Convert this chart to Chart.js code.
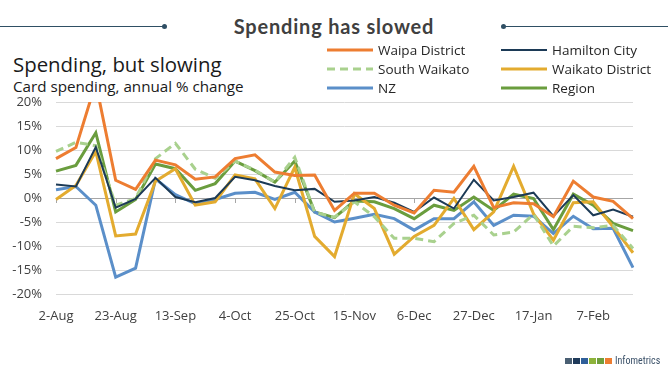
<!DOCTYPE html>
<html>
<head>
<meta charset="utf-8">
<script src="https://cdn.jsdelivr.net/npm/chart.js@4"></script>
<style>
  body { margin: 0; background: #fff; }
  #page { position: relative; width: 668px; height: 371px; overflow: hidden; background: #fff; }
  .txt { position: absolute; white-space: nowrap; line-height: 1; }
  .rule { position: absolute; height: 1px; background: #2f4f64; top: 26px; }
  .dot { position: absolute; width: 5px; height: 5px; border-radius: 50%; background: #2f4f64; top: 23.5px; }
  #logo { position: absolute; left: 565px; top: 356px; display: flex; align-items: center; }
  #logo span.sq { display: inline-block; width: 7px; height: 6px; margin-right: 1px; }
  #chart { position: absolute; left: 0; top: 0; }
</style>
</head>
<body>
<div id="page">
  <div class="rule" style="left:0;width:164px"></div>
  <div class="dot" style="left:162px"></div>
  <div class="rule" style="left:503px;width:165px"></div>
  <div class="dot" style="left:501px"></div>
  <div class="txt" style="left:0;width:668px;text-align:center;top:14px;font:bold 20px Lato, sans-serif;letter-spacing:0.8px;color:#404040">Spending has slowed</div>
  <div class="txt" style="left:13px;top:50.2px;font:20.4px 'Open Sans', sans-serif;color:#1a1a1a">Spending, but slowing</div>
  <div class="txt" style="left:13px;top:76px;font:15.2px 'Open Sans', sans-serif;color:#1a1a1a">Card spending, annual % change</div>
  <canvas id="chart" width="668" height="371"></canvas>
  <div id="logo">
    <span class="sq" style="background:#4a5f73"></span><span class="sq" style="background:#1f3a5a"></span><span class="sq" style="background:#2f5f9a"></span><span class="sq" style="background:#8db33a"></span><span class="sq" style="background:#6e9e3c"></span><span class="sq" style="background:#ed7d31"></span>
    <span style="font:10px 'Liberation Sans Narrow', 'Roboto', sans-serif;font-stretch:condensed;color:#3a5068;margin-left:2px;line-height:1">Infometrics</span>
  </div>
</div>
<script>
// weekly dates, labelled every 3rd week
const weeks = ["2-Aug", "9-Aug", "16-Aug", "23-Aug", "30-Aug", "6-Sep", "13-Sep", "20-Sep", "27-Sep", "4-Oct",
  "11-Oct", "18-Oct", "25-Oct", "1-Nov", "8-Nov", "15-Nov", "22-Nov", "29-Nov", "6-Dec", "13-Dec",
  "20-Dec", "27-Dec", "3-Jan", "10-Jan", "17-Jan", "24-Jan", "31-Jan", "7-Feb", "14-Feb", "21-Feb"];

const waipa = [8.2, 10.5, 24, 3.7, 1.8, 7.9, 6.9, 3.9, 4.4, 8.2, 9.0, 5.4, 4.7, 4.8, -2.6,
  1.0, 1.0, -1.5, -3.1, 1.6, 1.2, 6.6, -2.0, -1.0, -1.2, -3.9, 3.5, 0.2, -0.7, -4.3];
const hamilton = [2.8, 2.4, 10.6, -2.0, -0.2, 4.2, 0.2, -0.9, 0.0, 4.4, 3.7, 2.5, 1.6, 1.9, -0.8,
  -0.5, 0.2, -1.0, -2.9, 0.1, -2.2, 3.8, -0.5, 0.2, 1.1, -3.8, 0.6, -3.6, -2.4, -3.9];
const southWaikato = [9.7, 11.6, 10.9, -1.5, -0.1, 8.2, 11.4, 6.0, 4.1, 7.7, 5.8, 3.3, 8.5, -3.0, -4.0,
  -0.8, -3.9, -8.4, -8.4, -9.1, -5.3, -3.6, -7.7, -7.1, -3.4, -10.0, -5.9, -6.2, -5.7, -10.5];
const waikatoDistrict = [-0.3, 2.6, 9.7, -7.9, -7.5, 3.5, 6.1, -1.5, -0.8, 4.8, 4.0, -2.2, 6.4, -8.0, -12.2,
  0.9, -2.2, -11.7, -8.0, -5.7, -0.1, -6.6, -2.9, 6.6, -3.3, -8.8, -1.0, -0.8, -6.0, -11.4];
const nz = [1.7, 2.4, -1.5, -16.5, -14.6, 4.0, 0.7, -1.2, -0.3, 1.0, 1.2, -0.3, 1.2, -2.9, -5.0,
  -4.2, -3.4, -4.3, -6.7, -4.3, -4.3, -0.8, -5.7, -3.6, -3.8, -7.4, -3.8, -6.4, -6.3, -14.5];
const region = [5.6, 6.8, 13.6, -2.9, -0.3, 7.1, 6.1, 1.6, 3.0, 7.7, 5.7, 3.3, 7.7, -2.9, -4.1,
  -0.6, -0.8, -2.2, -4.3, -1.5, -2.6, 0.2, -2.6, 0.8, -0.1, -6.6, 0.8, -1.5, -5.3, -6.8];

const yTicks = [-20, -15, -10, -5, 0, 5, 10, 15, 20];

const series = [
  { label: "Waipa District", data: waipa, borderColor: "#ed7d31", borderWidth: 3 },
  { label: "Hamilton City", data: hamilton, borderColor: "#1c3a56", borderWidth: 2 },
  { label: "South Waikato", data: southWaikato, borderColor: "#a9d18e", borderWidth: 3, borderDash: [8, 5] },
  { label: "Waikato District", data: waikatoDistrict, borderColor: "#e3ab2f", borderWidth: 3 },
  { label: "NZ", data: nz, borderColor: "#5b8fc9", borderWidth: 3 },
  { label: "Region", data: region, borderColor: "#6a9d3e", borderWidth: 3 },
];

// small tick marks on the 0% line at labelled weeks
const zeroTicks = {
  id: "zeroTicks",
  beforeDatasetsDraw(chart) {
    const { ctx, scales: { x, y } } = chart;
    const y0 = y.getPixelForValue(0);
    ctx.save();
    ctx.strokeStyle = "#a6a6a6";
    ctx.lineWidth = 1;
    weeks.forEach((w, i) => {
      if (i % 3 !== 0) return;
      const px = Math.round(x.getPixelForValue(i)) + 0.5;
      ctx.beginPath();
      ctx.moveTo(px, y0);
      ctx.lineTo(px, y0 + 5);
      ctx.stroke();
    });
    ctx.restore();
  }
};

// two-column legend in the top right
const gridLegend = {
  id: "gridLegend",
  afterDraw(chart) {
    const ctx = chart.ctx;
    const cols = [327, 501];
    const rows = [50, 69, 88];
    ctx.save();
    ctx.font = "13.5px 'Open Sans', sans-serif";
    ctx.textBaseline = "middle";
    ctx.fillStyle = "#262626";
    chart.data.datasets.forEach((ds, i) => {
      const lx = cols[i % 2];
      const ly = rows[Math.floor(i / 2)];
      ctx.strokeStyle = ds.borderColor;
      ctx.lineWidth = ds.borderWidth;
      ctx.setLineDash(ds.borderDash || []);
      ctx.beginPath();
      ctx.moveTo(lx, ly);
      ctx.lineTo(lx + 46, ly);
      ctx.stroke();
      ctx.setLineDash([]);
      ctx.fillText(ds.label, lx + 51, ly + 1);
    });
    ctx.restore();
  }
};

new Chart(document.getElementById("chart"), {
  type: "line",
  data: {
    labels: weeks,
    datasets: series.map(s => ({ ...s, fill: false, pointRadius: 0, tension: 0 }))
  },
  options: {
    responsive: false,
    animation: false,
    devicePixelRatio: 1,
    layout: { padding: { top: 102, right: 35, bottom: 0, left: 0 } },
    plugins: { legend: { display: false }, tooltip: { enabled: false } },
    scales: {
      x: {
        grid: { display: false },
        border: { display: false },
        ticks: {
          autoSkip: false,
          maxRotation: 0,
          padding: 6,
          color: "#404040",
          font: { family: "'Open Sans', sans-serif", size: 13 },
          callback: (v, i) => (i % 3 === 0 ? weeks[i] : "")
        },
        afterFit: s => { s.height = 77; }
      },
      y: {
        min: -20,
        max: 20,
        afterBuildTicks: s => { s.ticks = yTicks.map(v => ({ value: v })); },
        grid: {
          drawTicks: false,
          color: c => (c.tick && c.tick.value === 0 ? "#a6a6a6" : "#d9d9d9"),
          lineWidth: 1
        },
        border: { display: false },
        ticks: {
          padding: 14,
          color: "#404040",
          font: { family: "'Open Sans', sans-serif", size: 13 },
          callback: v => v + "%"
        },
        afterFit: s => { s.width = 56; }
      }
    }
  },
  plugins: [zeroTicks, gridLegend]
});
</script>
</body>
</html>
